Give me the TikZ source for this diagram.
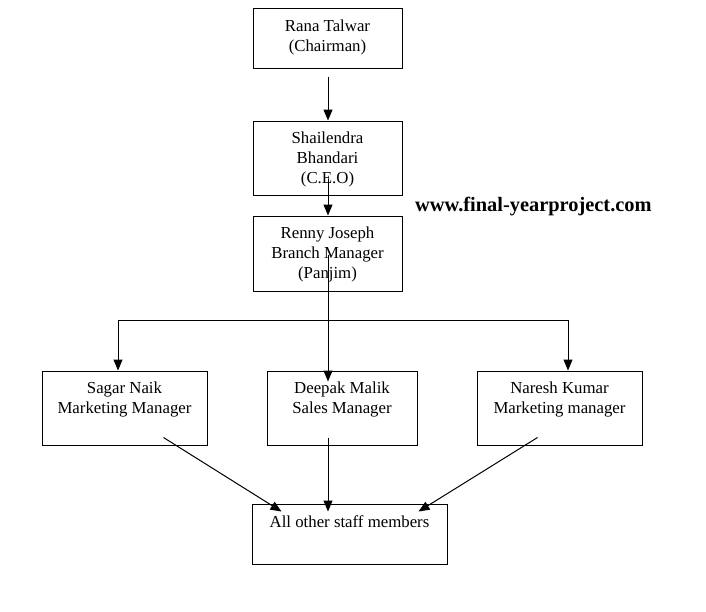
\documentclass[tikz,border=0pt]{standalone}
\usepackage{fontspec}
\setmainfont{Liberation Serif}
\usetikzlibrary{arrows.meta,calc}
\tikzset{
  box/.style={draw, line width=1pt, rectangle, inner sep=0pt},
  txt/.style={anchor=north, inner sep=0pt, align=center, font=\fontsize{16.8}{20}\selectfont},
  arr/.style={line width=1pt, -{Triangle[length=11pt,width=9pt]}},
  ln/.style={line width=1pt},
  wm/.style={anchor=base west, inner sep=0pt, font=\bfseries\fontsize{20.4}{24}\selectfont}
}
\begin{document}
\begin{tikzpicture}[x=1pt,y=-1pt]
\useasboundingbox[fill=white] (0,0) rectangle (706,611);
% boxes
\node[box, minimum width=149pt, minimum height=60pt] (rana) at (327.5,38) {};
\node[box, minimum width=149pt, minimum height=74pt] (shail) at (327.5,158) {};
\node[box, minimum width=149pt, minimum height=75pt] (renny) at (327.5,253.5) {};
\node[box, minimum width=165pt, minimum height=74pt] (sagar) at (124.5,408) {};
\node[box, minimum width=150pt, minimum height=74pt] (deepak) at (342,408) {};
\node[box, minimum width=165pt, minimum height=74pt] (naresh) at (559.5,408) {};
\node[box, minimum width=195pt, minimum height=60pt] (staff) at (349.5,534) {};
% texts
\node[txt] (tRana) at ($(rana.north)+(0,12)$) {Rana Talwar\\(Chairman)};
\node[txt] (tShail) at ($(shail.north)+(0,11)$) {Shailendra\\Bhandari\\(C.E.O)};
\node[txt] (tRenny) at ($(renny.north)+(0,11)$) {Renny Joseph\\Branch Manager\\(Panjim)};
\node[txt] (tSagar) at ($(sagar.north)+(0,11)$) {Sagar Naik\\Marketing Manager};
\node[txt] (tDeepak) at ($(deepak.north)+(0,11)$) {Deepak Malik\\Sales Manager};
\node[txt] (tNaresh) at ($(naresh.north)+(0,11)$) {Naresh Kumar\\Marketing manager};
\node[txt] (tStaff) at ($(staff.north)+(0,12)$) {All other staff members};
% watermark
\node[wm] (wmark) at (415,211) {www.final-yearproject.com};
% connectors
\draw[arr] ($(rana.south)+(0.5,8)$) -- ($(shail.north)+(0.5,0)$);
\draw[arr] ($(shail.south)+(0.5,-17)$) -- ($(renny.north)+(0.5,0)$);
\coordinate (bl) at (118,320);
\coordinate (br) at (568,320);
\draw[ln] (bl) -- (br);
\draw[arr] ($(renny.center)+(0.5,1.5)$) -- ($(renny.center |- deepak.north)+(0.5,11)$);
\draw[arr] (bl) -- (bl |- sagar.north);
\draw[arr] (br) -- (br |- naresh.north);
\draw[arr] ($(sagar.south east)+(-44,-8)$) -- ($(staff.north west)+(30,8)$);
\draw[arr] ($(deepak.south)+(-14,-8)$) -- ($(staff.north)+(-21.5,8)$);
\draw[arr] ($(naresh.south west)+(61,-8)$) -- ($(staff.north east)+(-29,8)$);
\end{tikzpicture}
\end{document}
